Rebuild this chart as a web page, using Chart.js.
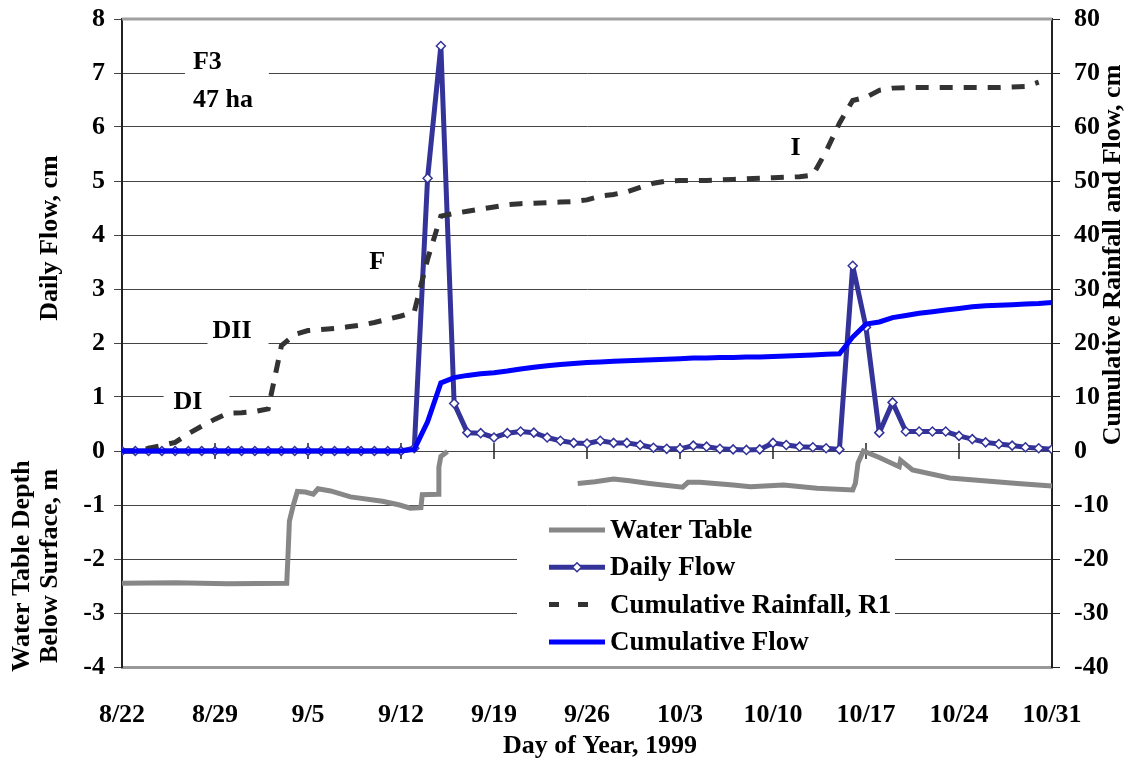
<!DOCTYPE html>
<html>
<head>
<meta charset="utf-8">
<script src="https://cdn.jsdelivr.net/npm/chart.js@4"></script>
<style>
  html, body { margin: 0; background: #fff; }
</style>
</head>
<body>
<canvas id="flow-chart" width="1134" height="764"></canvas>
<script>
const dateLabels = ['8/22', '8/29', '9/5', '9/12', '9/19', '9/26', '10/3', '10/10', '10/17', '10/24', '10/31'];

// one value per day, 8/22 (day 0) to 10/31 (day 70)
const dailyFlow = [
  0, 0, 0, 0, 0, 0, 0, 0, 0, 0, 0, 0, 0, 0, 0, 0, 0, 0, 0, 0, 0, 0,
  0.05, 5.05, 7.5, 0.88, 0.34, 0.33, 0.25, 0.33, 0.36, 0.34, 0.25, 0.19, 0.15, 0.14, 0.19, 0.15, 0.15,
  0.11, 0.06, 0.04, 0.04, 0.1, 0.08, 0.04, 0.03, 0.02, 0.03, 0.15, 0.11, 0.08, 0.07, 0.05, 0.03,
  3.43, 2.29, 0.34, 0.9, 0.36, 0.36, 0.36, 0.36, 0.28, 0.22, 0.16, 0.13, 0.1, 0.07, 0.05, 0.03
];
const cumFlow = [
  0, 0, 0, 0, 0, 0, 0, 0, 0, 0, 0, 0, 0, 0, 0, 0, 0, 0, 0, 0, 0, 0,
  0.3, 5.4, 12.6, 13.6, 14.0, 14.3, 14.5, 14.8, 15.2, 15.5, 15.8, 16.0, 16.2, 16.4, 16.5, 16.6, 16.7,
  16.8, 16.9, 17.0, 17.1, 17.2, 17.2, 17.3, 17.3, 17.4, 17.4, 17.5, 17.6, 17.7, 17.8, 17.9, 18.0,
  21.1, 23.5, 23.9, 24.7, 25.1, 25.5, 25.8, 26.1, 26.4, 26.7, 26.9, 27.0, 27.1, 27.2, 27.3, 27.5
];
const cumRain = [
  0, 0, 0.5, 1.0, 1.6, 3.2, 4.6, 5.9, 7.0, 7.1, 7.3, 7.8, 19.5, 21.6, 22.3, 22.5, 22.7, 23.0, 23.3, 23.8,
  24.4, 25.0, 25.8, 35.5, 43.5, 44.0, 44.4, 44.8, 45.2, 45.6, 45.8, 45.9, 46.0, 46.1, 46.2, 46.5, 47.2,
  47.5, 48.0, 48.8, 49.6, 50.0, 50.1, 50.1, 50.1, 50.2, 50.3, 50.4, 50.5, 50.6, 50.7, 50.8, 51.1,
  55.5, 60.7, 64.9, 65.5, 66.8, 67.2, 67.3, 67.3, 67.3, 67.3, 67.3, 67.3, 67.3, 67.3, 67.4, 67.5, 68.3, null
];
// water table logger trace: day offset from 8/22 and depth in m (null = no record)
const wtDay = [0, 4, 8, 12.4, 12.5, 12.6, 12.9, 13.2, 13.8, 14.4, 14.75, 15.7, 17.2, 19.6, 20.9, 21.7,
  22.5, 22.6, 23.8, 23.85, 24.0, 24.5, 24.6, 34.3, 35.6, 37.0, 38.2, 39.7, 42.2, 42.6, 43.5, 46.0,
  47.3, 49.8, 52.3, 55.0, 55.2, 55.4, 55.8, 57.0, 58.5, 58.6, 59.5, 62.3, 67.4, 70.0];
const wtDepth = [-2.45, -2.44, -2.46, -2.45, -1.9, -1.3, -1.0, -0.75, -0.76, -0.8, -0.7, -0.74, -0.85, -0.93, -1.0, -1.06,
  -1.05, -0.81, -0.8, -0.3, -0.1, -0.01, null, -0.6, -0.57, -0.52, -0.55, -0.6, -0.67, -0.58, -0.58, -0.63,
  -0.66, -0.63, -0.69, -0.72, -0.6, -0.22, 0, -0.12, -0.29, -0.17, -0.35, -0.5, -0.6, -0.65];

const FONT = '"Liberation Serif", "Times New Roman", serif';
const bold = (size) => `bold ${size}px ${FONT}`;

// text notes on the chart, placed in data units (day, left axis value)
const notes = [
  { text: ['F3', '47 ha'], day: 5.34, val: 7.2, align: 'left', pad: [8, 16] },
  { text: ['DII'], day: 8.28, val: 2.22, align: 'center', pad: [5, 17] },
  { text: ['DI'], day: 4.97, val: 0.91, align: 'center', pad: [10, 27] },
  { text: ['F'], day: 19.2, val: 3.5, align: 'center', pad: [0, 0] },
  { text: ['I'], day: 50.7, val: 5.61, align: 'center', pad: [0, 0] }
];

const decor = {
  id: 'decor',
  beforeDatasetsDraw(chart) {
    const { ctx, scales: { x, y } } = chart;
    ctx.save();

    // day ticks sit on the zero line
    const y0 = y.getPixelForValue(0);
    ctx.strokeStyle = '#222';
    ctx.lineWidth = 1.5;
    x.ticks.forEach(t => {
      const px = x.getPixelForValue(t.value);
      ctx.beginPath();
      ctx.moveTo(px, y0 - 8);
      ctx.lineTo(px, y0 + 8);
      ctx.stroke();
    });

    // notes, each on a white patch that hides the grid
    ctx.font = bold(26);
    ctx.textBaseline = 'middle';
    notes.forEach(n => {
      const px = x.getPixelForValue(n.day);
      const py = y.getPixelForValue(n.val);
      const w = Math.max(...n.text.map(s => ctx.measureText(s).width));
      const left = n.align === 'left' ? px : px - w / 2;
      const h = n.text.length * 38;
      ctx.fillStyle = '#fff';
      if (n.pad[0] || n.pad[1]) {
        ctx.fillRect(left - n.pad[0], py - 17, w + n.pad[0] + n.pad[1], h - 4);
      }
      ctx.fillStyle = '#000';
      ctx.textAlign = 'left';
      n.text.forEach((s, i) => {
        const sw = ctx.measureText(s).width;
        const tx = n.align === 'left' ? left : px - sw / 2;
        ctx.fillText(s, tx, py + i * 38);
      });
    });

    // legend box inside the plot
    const lg = { left: 517, top: 512, right: 895, bottom: 662 };
    ctx.fillStyle = '#fff';
    ctx.fillRect(lg.left, lg.top, lg.right - lg.left, lg.bottom - lg.top);
    chart.data.datasets.forEach((ds, i) => {
      const ly = 530 + i * 37.3;
      ctx.strokeStyle = ds.borderColor;
      ctx.lineWidth = ds.borderWidth;
      ctx.setLineDash(ds.borderDash ? [10, 19] : []);
      ctx.beginPath();
      ctx.moveTo(549, ly);
      ctx.lineTo(605, ly);
      ctx.stroke();
      ctx.setLineDash([]);
      if (ds.pointRadius) {
        const r = ds.pointRadius;
        ctx.beginPath();
        ctx.moveTo(577, ly - r);
        ctx.lineTo(577 + r, ly);
        ctx.lineTo(577, ly + r);
        ctx.lineTo(577 - r, ly);
        ctx.closePath();
        ctx.fillStyle = ds.pointBackgroundColor;
        ctx.fill();
        ctx.lineWidth = ds.pointBorderWidth;
        ctx.strokeStyle = ds.pointBorderColor;
        ctx.stroke();
      }
      ctx.fillStyle = '#000';
      ctx.textAlign = 'left';
      ctx.font = bold(27);
      ctx.fillText(ds.label, 610, ly + 1);
    });
    ctx.restore();
  },
  afterDraw(chart) {
    const { ctx, chartArea: a } = chart;
    ctx.save();
    // grey frame line along the top
    ctx.strokeStyle = '#a0a0a0';
    ctx.lineWidth = 3;
    ctx.beginPath();
    ctx.moveTo(a.left, a.top);
    ctx.lineTo(a.right, a.top);
    ctx.stroke();

    ctx.fillStyle = '#000';
    ctx.font = bold(26);
    ctx.textAlign = 'center';
    ctx.textBaseline = 'middle';
    ctx.fillText('Day of Year, 1999', 600, 746);

    const vtext = (s, px, py) => {
      ctx.save();
      ctx.translate(px, py);
      ctx.rotate(-Math.PI / 2);
      ctx.fillText(s, 0, 0);
      ctx.restore();
    };
    vtext('Daily Flow, cm', 50, 238);
    vtext('Water Table Depth', 22, 566);
    vtext('Below Surface, m', 50, 566);
    vtext('Cumulative Rainfall and Flow, cm', 1113, 255);
    ctx.restore();
  }
};

const days = dailyFlow.map((v, i) => i);

// pin the axis boxes so the plot area lands where the original has it
const fixWidth = (w) => (s) => { s.width = w; s.paddingTop = 0; s.paddingBottom = 0; };

window.addEventListener('DOMContentLoaded', () => {
  const box = document.getElementById('flow-chart');
  new Chart(box, {
    type: 'line',
    data: {
      datasets: [
        {
          label: 'Water Table',
          data: wtDay.map((d, i) => ({ x: d, y: wtDepth[i] })),
          yAxisID: 'y',
          borderColor: '#878787',
          borderWidth: 5,
          pointRadius: 0,
          order: 3
        },
        {
          label: 'Daily Flow',
          data: days.map(d => ({ x: d, y: dailyFlow[d] })),
          yAxisID: 'y',
          borderColor: '#333399',
          borderWidth: 5,
          borderJoinStyle: 'round',
          pointStyle: 'rectRot',
          pointRadius: 4.5,
          pointBackgroundColor: '#fff',
          pointBorderColor: '#333399',
          pointBorderWidth: 1.5,
          order: 2
        },
        {
          label: 'Cumulative Rainfall, R1',
          data: days.map(d => ({ x: d, y: cumRain[d] })),
          yAxisID: 'y2',
          borderColor: '#333333',
          borderWidth: 5,
          borderDash: [13, 11],
          pointRadius: 0,
          order: 1
        },
        {
          label: 'Cumulative Flow',
          data: days.map(d => ({ x: d, y: cumFlow[d] })),
          yAxisID: 'y2',
          borderColor: '#0000ff',
          borderWidth: 5,
          pointRadius: 0,
          order: 0
        }
      ]
    },
    options: {
      responsive: false,
      animation: false,
      layout: { padding: { top: 19, left: 0, right: 0, bottom: 0 } },
      elements: { line: { tension: 0 } },
      plugins: {
        legend: { display: false },
        tooltip: { enabled: false }
      },
      scales: {
        x: {
          type: 'linear',
          min: 0,
          max: 70,
          afterFit: s => { s.height = 97; },
          ticks: {
            stepSize: 7,
            autoSkip: false,
            maxRotation: 0,
            padding: 25,
            color: '#000',
            font: { family: FONT, size: 26, weight: 'bold' },
            callback: v => dateLabels[Math.round(v / 7)]
          },
          grid: { display: false },
          border: { display: true, color: '#999', width: 3 }
        },
        y: {
          position: 'left',
          min: -4,
          max: 8,
          afterFit: fixWidth(122),
          ticks: {
            stepSize: 1,
            padding: 9,
            color: '#000',
            font: { family: FONT, size: 26, weight: 'bold' }
          },
          grid: { color: '#444', lineWidth: 1, tickLength: 8 },
          border: { color: '#222', width: 2 }
        },
        y2: {
          position: 'right',
          min: -40,
          max: 80,
          afterFit: fixWidth(82),
          ticks: {
            stepSize: 10,
            padding: 14,
            color: '#000',
            font: { family: FONT, size: 26, weight: 'bold' }
          },
          grid: { drawOnChartArea: false, color: '#222', tickLength: 8 },
          border: { color: '#222', width: 2 }
        }
      }
    },
    plugins: [decor]
  });
});
</script>
</body>
</html>
